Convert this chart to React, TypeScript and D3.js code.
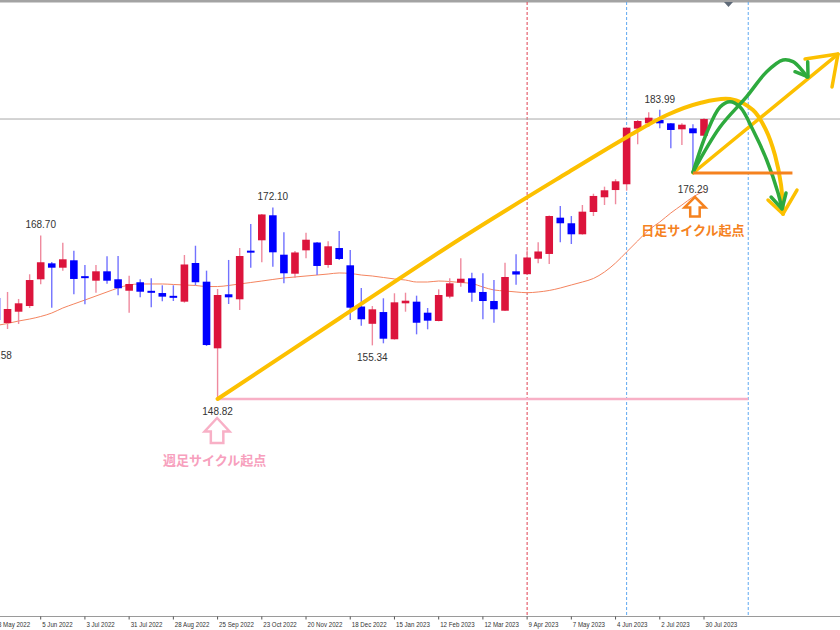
import React from 'react';
import * as d3 from 'd3';

const W = 840;
const H = 630;

// weekly candles, index 0 = week of 5 Jun 2022, first candle index = -4 (8 May 2022)
const firstIndex = -4;
const opens = [161.10,158.06,159.43,160.12,163.37,165.31,164.78,165.68,163.75,163.20,164.34,163.37,161.98,163.01,161.97,161.70,161.36,160.65,165.35,163.08,154.98,161.55,160.94,166.85,168.11,171.15,166.36,164.05,166.89,167.84,165.11,167.17,165.07,160.06,157.96,159.39,156.08,160.45,160.65,159.31,158.30,161.26,162.96,163.49,161.83,160.73,159.55,164.34,163.99,165.87,166.45,170.86,170.18,168.84,171.55,173.34,174.22,174.92,181.68,182.33,182.73,182.33,181.60,181.72,180.82];
const highs = [161.83,161.83,160.98,163.98,168.70,165.47,167.82,166.85,165.11,165.11,166.17,166.20,163.81,163.37,163.49,162.64,162.64,166.32,167.45,164.42,162.19,165.72,167.17,170.09,171.31,172.10,169.08,166.81,169.03,167.90,167.99,169.24,166.93,162.31,160.12,161.06,161.67,161.74,161.38,159.88,162.15,163.49,165.92,164.17,164.10,163.28,165.39,166.41,166.89,167.87,171.12,172.28,171.06,172.40,173.77,174.63,175.53,181.82,182.73,183.67,183.99,182.37,182.33,182.21,182.98];
const lows = [155.58,157.33,157.94,159.88,162.76,159.92,164.42,161.55,160.33,161.74,162.84,161.43,159.31,161.18,159.97,160.70,160.73,160.53,162.64,155.26,148.82,160.37,159.64,164.78,165.44,164.90,162.88,163.56,165.92,163.89,164.78,165.72,158.42,157.73,155.34,155.59,156.04,159.43,156.68,157.29,158.26,161.06,162.47,160.65,158.51,158.09,159.52,162.71,163.95,165.31,165.23,167.87,167.66,168.80,171.06,172.40,172.49,174.14,179.78,181.92,181.72,179.29,179.69,176.29,180.79];
const closes = [158.42,159.76,160.45,163.28,165.44,164.78,165.80,163.41,163.63,164.34,163.20,162.28,162.80,161.86,161.85,161.26,161.24,165.17,163.01,155.38,161.46,161.18,166.20,166.65,171.25,166.65,164.10,166.63,168.18,164.99,167.38,165.84,159.92,158.51,159.72,156.15,160.57,160.77,158.09,158.34,161.46,162.88,163.44,161.74,160.73,159.72,163.65,163.95,166.02,166.75,171.06,170.18,168.84,171.59,173.50,174.19,175.28,181.80,182.61,183.01,182.33,181.52,182.16,181.12,182.85];
const movingAverage = [157.75,158.00,158.30,158.54,158.85,159.27,159.88,160.37,160.85,161.34,161.83,162.31,162.68,162.80,162.80,162.80,162.74,162.68,162.62,162.49,162.49,162.62,162.80,162.98,163.16,163.35,163.53,163.65,163.77,163.89,164.01,164.14,164.08,163.89,163.77,163.59,163.41,163.28,163.04,163.04,163.16,163.10,162.98,162.86,162.43,162.07,161.95,161.83,161.74,161.83,162.01,162.31,162.68,163.04,163.47,164.26,165.35,166.69,168.03,169.36,170.33,171.43,172.40,173.37,174.10];

const tickLabels = ["8 May 2022","5 Jun 2022","3 Jul 2022","31 Jul 2022","28 Aug 2022","25 Sep 2022","23 Oct 2022","20 Nov 2022","18 Dec 2022","15 Jan 2023","12 Feb 2023","12 Mar 2023","9 Apr 2023","7 May 2023","4 Jun 2023","2 Jul 2023","30 Jul 2023"];
const tickIndexes = [-4,0,4,8,12,16,20,24,28,32,36,40,44,48,52,56,60];

const extremeLabels = [
  { i: -4, v: 155.58, below: true },
  { i: 0, v: 168.70, below: false },
  { i: 16, v: 148.82, below: true },
  { i: 21, v: 172.10, below: false },
  { i: 30, v: 155.34, below: true },
  { i: 56, v: 183.99, below: false },
  { i: 59, v: 176.29, below: true },
];

const currentPrice = 182.85;
const redMarkerIndex = 44;
const blueMarkerIndexes = [53, 64];
const weeklyStart = { i: 16, v: 148.82, endI: 64 };
const dailyStart = { i: 59, v: 176.29, endI: 68 };

// hand-drawn annotation paths in (week index, price)
const yellowArc: [number, number][] = [[16,148.82],[27.07,158.67],[37.93,168.27],[47.61,176.29],[53.04,180.67],[56.65,183.34],[59.64,184.80],[62.35,185.28],[64.43,183.94],[65.61,181.51],[66.42,178.48],[66.97,174.83],[67.15,171.31]];
const yellowArcHead: [number, number][] = [[65.79,173.01],[67.15,171.31],[68.41,174.22]];
const yellowRise: [number, number][] = [[59.01,176.29],[72.12,190.75]];
const yellowRiseHead: [number, number][] = [[69.14,190.15],[72.12,190.75],[71.58,186.74]];
const greenDown: [number, number][] = [[59.01,176.41],[60.24,181.15],[61.45,184.31],[62.35,184.96],[63.26,184.31],[64.43,181.52],[65.67,177.87],[66.70,173.86],[67.03,172.03]];
const greenDownHead: [number, number][] = [[66.07,173.37],[67.06,171.92],[67.42,173.86]];
const greenUp: [number, number][] = [[59.01,176.41],[61.45,181.88],[63.86,185.57],[65.67,188.60],[67.15,190.03],[68.05,189.82],[68.84,188.81],[69.32,187.96]];
const greenUpHead: [number, number][] = [[68.23,188.60],[69.41,187.96],[69.38,189.82]];

const x = d3.scaleLinear().domain([0, 60]).range([40.7, 704.0]);
const y = d3.scaleLinear().domain([148.82, 183.99]).range([399, 109.65]);

const RED = '#dc143c';
const BLUE = '#0000ff';
const RED_WICK = '#ef8a9e';
const BLUE_WICK = '#7272ff';
const YELLOW = '#fcc000';
const GREEN = '#2eaa3e';
const ORANGE = '#f5821f';
const PINK = '#f8b0c6';
const AXIS_Y = 616.5;

function upArrow(cx: number, top: number, headW: number, headH: number, shaftW: number, totalH: number) {
  const p = d3.path();
  p.moveTo(cx, top);
  p.lineTo(cx + headW / 2, top + headH);
  p.lineTo(cx + shaftW / 2, top + headH);
  p.lineTo(cx + shaftW / 2, top + totalH);
  p.lineTo(cx - shaftW / 2, top + totalH);
  p.lineTo(cx - shaftW / 2, top + headH);
  p.lineTo(cx - headW / 2, top + headH);
  p.closePath();
  return p.toString();
}

export default function App() {
  const line = d3.line<[number, number]>().x(d => x(d[0])).y(d => y(d[1]));
  const curve = d3.line<[number, number]>().x(d => x(d[0])).y(d => y(d[1])).curve(d3.curveCatmullRom.alpha(0.5));
  const maLine = d3.line<number>().x((_, k) => x(firstIndex + k)).y(d => y(d)).curve(d3.curveMonotoneX);
  const bodyW = 7.6;

  const dailyX = x(dailyStart.i);
  const weeklyX = x(weeklyStart.i);

  return (
    <svg width={W} height={H} style={{ position: 'absolute', left: 0, top: 0, background: '#fff' }}>
      <rect x={0} y={0} width={W} height={H} fill="#ffffff" />
      {/* top frame */}
      <rect x={0} y={0} width={W} height={2.5} fill="#a3a3a3" />
      <path d={`M${724},${2} L${733},${2} L${728.5},${7} Z`} fill="#5f6a78" />

      {/* vertical markers */}
      <line x1={x(redMarkerIndex)} x2={x(redMarkerIndex)} y1={2} y2={AXIS_Y} stroke="#e04050" strokeWidth={1} strokeDasharray="3,2" />
      {blueMarkerIndexes.map(i => (
        <line key={i} x1={x(i)} x2={x(i)} y1={2} y2={AXIS_Y} stroke="#5ea8f2" strokeWidth={1} strokeDasharray="3,2" />
      ))}

      {/* current price line */}
      <line x1={0} x2={W} y1={y(currentPrice)} y2={y(currentPrice)} stroke="#a8a8a8" strokeWidth={1} />

      {/* weekly cycle start level */}
      <line x1={weeklyX} x2={x(weeklyStart.endI)} y1={y(weeklyStart.v)} y2={y(weeklyStart.v)} stroke={PINK} strokeWidth={2.5} />

      {/* moving average */}
      <path d={maLine(movingAverage) || ''} fill="none" stroke="#f4845f" strokeWidth={1} />

      {/* candles */}
      {opens.map((o, k) => {
        const i = firstIndex + k;
        const c = closes[k];
        const up = c >= o;
        const cx = x(i);
        const top = y(Math.max(o, c));
        const bot = y(Math.min(o, c));
        const h = Math.max(bot - top, 2);
        return (
          <g key={k}>
            <line x1={cx} x2={cx} y1={y(highs[k])} y2={y(lows[k])} stroke={up ? RED_WICK : BLUE_WICK} strokeWidth={1.4} />
            <rect x={cx - bodyW / 2} y={top} width={bodyW} height={h} fill={up ? RED : BLUE} />
          </g>
        );
      })}

      {/* high / low labels */}
      {extremeLabels.map((l, k) => (
        <text key={k} x={x(l.i)} y={y(l.v) + (l.below ? (l.i === 59 ? 20 : 16) : -7)} textAnchor="middle" fontFamily='Arial, "Liberation Sans", sans-serif' fontSize={10} fill="#333">
          {l.v.toFixed(2)}
        </text>
      ))}

      {/* yellow projections */}
      <path d={curve(yellowArc) || ''} fill="none" stroke={YELLOW} strokeWidth={4} strokeLinecap="round" />
      <path d={line(yellowArcHead) || ''} fill="none" stroke={YELLOW} strokeWidth={3.5} strokeLinecap="round" strokeLinejoin="round" />
      <path d={line(yellowRise) || ''} fill="none" stroke={YELLOW} strokeWidth={3.5} strokeLinecap="round" />
      <path d={line(yellowRiseHead) || ''} fill="none" stroke={YELLOW} strokeWidth={3.5} strokeLinecap="round" strokeLinejoin="round" />

      {/* green projections */}
      <path d={curve(greenDown) || ''} fill="none" stroke={GREEN} strokeWidth={3.5} strokeLinecap="round" />
      <path d={line(greenDownHead) || ''} fill="none" stroke={GREEN} strokeWidth={3.5} strokeLinecap="round" strokeLinejoin="round" />
      <path d={curve(greenUp) || ''} fill="none" stroke={GREEN} strokeWidth={3.5} strokeLinecap="round" />
      <path d={line(greenUpHead) || ''} fill="none" stroke={GREEN} strokeWidth={3.5} strokeLinecap="round" strokeLinejoin="round" />

      {/* daily cycle start level */}
      <line x1={dailyX} x2={x(dailyStart.endI)} y1={y(dailyStart.v)} y2={y(dailyStart.v)} stroke={ORANGE} strokeWidth={3} />

      {/* arrows and captions */}
      <path d={upArrow(weeklyX - 0.5, y(weeklyStart.v) + 19, 25, 13.5, 12.5, 25)} fill="#fff" stroke={PINK} strokeWidth={2.5} strokeLinejoin="miter" />
      <text x={weeklyX - 3} y={y(weeklyStart.v) + 66} textAnchor="middle" fontFamily='"Noto Sans CJK JP", sans-serif' fontWeight={700} fontSize={13} fill="#f7a0bd">週足サイクル起点</text>

      <path d={upArrow(dailyX + 2, y(dailyStart.v) + 24, 21, 10.5, 9.5, 19.5)} fill="#fff" stroke={ORANGE} strokeWidth={2.5} strokeLinejoin="miter" />
      <text x={dailyX} y={y(dailyStart.v) + 62.5} textAnchor="middle" fontFamily='"Noto Sans CJK JP", sans-serif' fontWeight={700} fontSize={13} fill={ORANGE}>日足サイクル起点</text>

      {/* time axis */}
      <line x1={0} x2={W} y1={AXIS_Y} y2={AXIS_Y} stroke="#9a9a9a" strokeWidth={1} />
      {tickIndexes.map((i, k) => (
        <g key={i}>
          <line x1={x(i)} x2={x(i)} y1={AXIS_Y} y2={AXIS_Y + 3} stroke="#555" strokeWidth={1} />
          <text transform={`translate(${x(i) + 1.5},${AXIS_Y + 10.5}) scale(0.81,1)`} fontFamily='"Liberation Sans", Arial, sans-serif' fontSize={7.6} fill="#333">{tickLabels[k]}</text>
        </g>
      ))}
    </svg>
  );
}
